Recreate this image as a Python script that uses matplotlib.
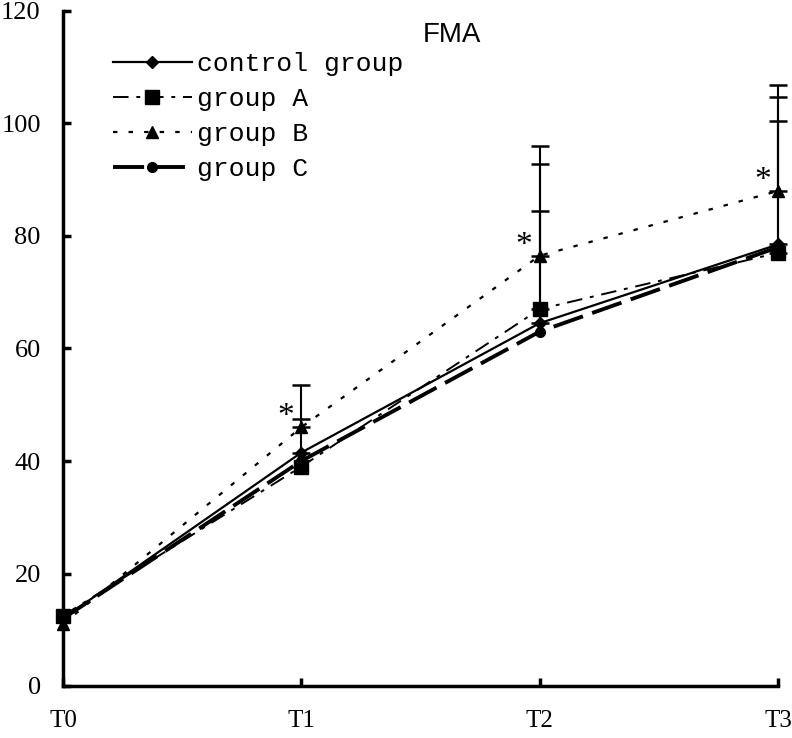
import numpy as np
import matplotlib
matplotlib.use('Agg')
import matplotlib.pyplot as plt

# time points and group means (FMA score)
time_labels = ['T0', 'T1', 'T2', 'T3']
control_group = [12.0, 41.5, 64.5, 78.5]
group_a = [12.5, 39.0, 67.0, 77.0]
group_b = [11.0, 46.0, 76.5, 88.0]
group_c = [12.0, 40.0, 63.0, 78.0]

# upper error bars (0 = no bar drawn)
control_err = [0.0, 6.0, 20.0, 22.0]
group_a_err = [0.0, 0.0, 25.8, 27.7]
group_b_err = [0.0, 7.5, 19.5, 18.8]

# significance marks
star_points = [1, 2, 3]

x = np.arange(len(time_labels))

fig = plt.figure(figsize=(7.92, 7.38), dpi=100)
ax = fig.add_axes([63 / 792, 52 / 738, 715 / 792, 675 / 738])

serif = 'Liberation Serif'

for means, errs in [(control_group, control_err), (group_a, group_a_err), (group_b, group_b_err)]:
    idx = [i for i in range(len(errs)) if errs[i] > 0]
    ax.errorbar(x[idx], np.array(means)[idx],
                yerr=[np.zeros(len(idx)), np.array(errs)[idx]], fmt='none',
                ecolor='black', elinewidth=1.5, capsize=6.5, capthick=1.8, clip_on=False)

ax.plot(x, control_group, color='black', linestyle='-', linewidth=1.6,
        marker='D', markersize=6, label='control group', clip_on=False, zorder=4)
ax.plot(x, group_a, color='black', linestyle=(0, (8, 4, 2, 4)), linewidth=1.4,
        marker='s', markersize=10, label='group A', clip_on=False, zorder=4)
ax.plot(x, group_b, color='black', linestyle=(0, (2, 5)), linewidth=1.6,
        marker='^', markersize=9, label='group B', clip_on=False, zorder=4)
ax.plot(x, group_c, color='black', linestyle=(0, (8, 2.5)), linewidth=2.8,
        marker='o', markersize=7, label='group C', clip_on=False, zorder=4)

for i in star_points:
    ax.text(x[i] - 0.065, group_b[i] + 1.8, '*', fontsize=24, family=serif,
            ha='center', va='center')

ax.set_xlim(0, 3)
ax.set_ylim(0, 120)
ax.set_xticks(x)
ax.set_xticklabels(time_labels, family=serif, fontsize=18)
ax.set_yticks(np.arange(0, 121, 20))
ax.set_yticklabels([str(v) for v in range(0, 121, 20)], family=serif, fontsize=19)
ax.tick_params(axis='both', direction='in', length=6, width=2.5)
ax.tick_params(axis='x', pad=17)
ax.tick_params(axis='y', pad=16)

for side in ['top', 'right']:
    ax.spines[side].set_visible(False)
for side in ['left', 'bottom']:
    ax.spines[side].set_linewidth(2.5)

ax.text(0.544, 0.984, 'FMA', transform=ax.transAxes, fontsize=20,
        family='Liberation Sans', ha='center', va='top')

leg = ax.legend(loc='upper left', bbox_to_anchor=(0.055, 0.955), frameon=False,
                prop={'family': 'Liberation Mono', 'size': 19},
                handlelength=3.0, handletextpad=0.2, labelspacing=0.42,
                borderaxespad=0)

fig.savefig('out.png', dpi=100)
